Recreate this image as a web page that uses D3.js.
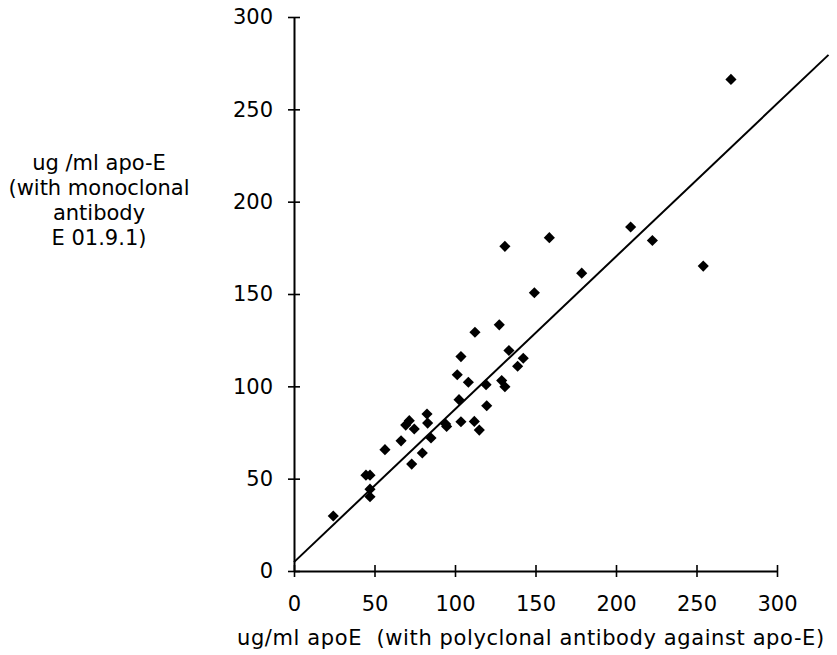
<!DOCTYPE html>
<html>
<head>
<meta charset="utf-8">
<script src="https://cdnjs.cloudflare.com/ajax/libs/d3/7.8.5/d3.min.js"></script>
<style>
  body { margin: 0; background: #fff; }
  text { font-family: "DejaVu Sans", sans-serif; fill: #000; }
</style>
</head>
<body>
<div id="chart-area"></div>
<script>
// values
const polyclonal = [24.4, 44.7, 47.2, 47.2, 47.2, 56.5, 66.5, 69.4, 71.6, 74.7, 73.1, 79.7, 82.6, 83, 85.1,
  94.2, 94.8, 101.4, 103.7, 102.5, 103.7, 108.3, 112.4, 112, 115.1, 119.3, 119.7, 127.5, 129, 131,
  133.5, 138.9, 142.4, 149.3, 131, 158.6, 178.7, 209.1, 222.6, 254.2, 271.4];
const monoclonal = [29.8, 51.9, 51.9, 44.3, 40.2, 65.7, 70.5, 79, 81.4, 76.9, 57.9, 63.9, 85, 80.1, 72,
  79.6, 78.3, 106.3, 116.1, 92.8, 80.8, 102.2, 129.3, 81, 76.3, 100.9, 89.5, 133.3, 103.1, 99.8,
  119.4, 110.9, 115.2, 150.7, 175.8, 180.5, 161.3, 186.3, 179, 165.1, 266.2];

// regression line end points
const lineX = [0, 332];
const lineY = [4.8, 279.5];

const xTicks = [0, 50, 100, 150, 200, 250, 300];
const yTicks = [0, 50, 100, 150, 200, 250, 300];

const xTitle = "ug/ml apoE  (with polyclonal antibody against apo-E)";
const yTitle = ["ug /ml apo-E", "(with monoclonal", "antibody", "E 01.9.1)"];

const margins = { top: 17, right: 60, bottom: 84, left: 294 };
const width = 837, height = 655;
const graphWidth = 483;
const graphHeight = 554;
const fontSize = 21;

const svg = d3
  .select("#chart-area")
  .append("svg")
  .attr("width", width)
  .attr("height", height);

const graph = svg
  .append("g")
  .attr("transform", `translate(${margins.left},${margins.top})`);

const x = d3.scaleLinear().domain([0, 300]).range([0, graphWidth]);
const y = d3.scaleLinear().domain([0, 300]).range([graphHeight, 0]);

// axes
const xAxis = d3.axisBottom(x).tickValues(xTicks).tickSize(0).tickPadding(25);
const yAxis = d3.axisLeft(y).tickValues(yTicks).tickSize(0).tickPadding(21);

const xAxisGroup = graph.append("g")
  .attr("transform", `translate(0,${graphHeight})`)
  .call(xAxis);
const yAxisGroup = graph.append("g").call(yAxis);

[xAxisGroup, yAxisGroup].forEach(g => {
  g.select(".domain").attr("stroke", "#000").attr("stroke-width", 2);
  g.selectAll("text")
    .attr("font-size", fontSize)
    .attr("font-family", "DejaVu Sans, sans-serif")
    .attr("fill", "#000");
});

// crossing tick marks
xAxisGroup.selectAll(".tick")
  .append("line")
  .attr("y1", -6).attr("y2", 6)
  .attr("stroke", "#000").attr("stroke-width", 1.6);
yAxisGroup.selectAll(".tick")
  .append("line")
  .attr("x1", -6).attr("x2", 6)
  .attr("stroke", "#000").attr("stroke-width", 1.6);

// regression line
const line = d3.line().x(d => x(d[0])).y(d => y(d[1]));
graph.append("path")
  .datum(d3.zip(lineX, lineY))
  .attr("d", line)
  .attr("fill", "none")
  .attr("stroke", "#000")
  .attr("stroke-width", 2);

// points
const diamond = d3.symbol().type(d3.symbolSquare).size(62);
graph.selectAll(".pt")
  .data(d3.zip(polyclonal, monoclonal))
  .enter()
  .append("path")
  .attr("class", "pt")
  .attr("d", diamond)
  .attr("transform", d => `translate(${x(d[0])},${y(d[1])}) rotate(45)`)
  .attr("fill", "#000");

// titles
svg.append("text")
  .attr("x", 237)
  .attr("y", 645)
  .attr("font-size", fontSize)
  .attr("letter-spacing", 0.6)
  .style("white-space", "pre")
  .text(xTitle);

svg.append("g")
  .selectAll("text")
  .data(yTitle)
  .enter()
  .append("text")
  .attr("x", 99)
  .attr("y", (d, i) => 170 + i * 25)
  .attr("text-anchor", "middle")
  .attr("font-size", fontSize)
  .text(d => d);
</script>
</body>
</html>
